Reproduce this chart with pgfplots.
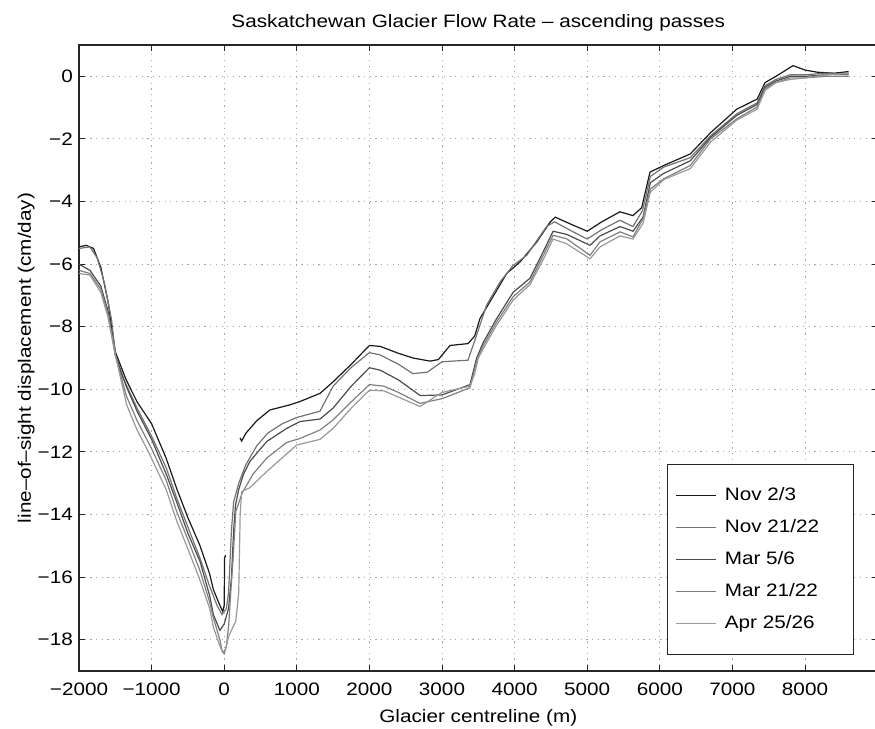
\documentclass[border=0pt]{standalone}
\usepackage{fontspec}
\setmainfont{Liberation Sans}[FakeStretch=1.15]
\usepackage{pgfplots}
\pgfplotsset{compat=1.18}
\newcommand{\fs}{\fontsize{18}{21}\selectfont}
\begin{document}
\begin{tikzpicture}
\begin{axis}[
  scale only axis, width=798.6pt, height=626pt,
  xmin=-2000, xmax=9000, ymin=-19, ymax=1,
  xtick={-2000,-1000,0,1000,2000,3000,4000,5000,6000,7000,8000},
  xticklabels={−2000,−1000,0,1000,2000,3000,4000,5000,6000,7000,8000},
  ytick={-18,-16,-14,-12,-10,-8,-6,-4,-2,0},
  yticklabels={−18,−16,−14,−12,−10,−8,−6,−4,−2,0},
  tick align=inside, tick pos=both, major tick length=6pt,
  axis line style={black!85, line width=1.1pt},
  major tick style={black!85, line width=1pt},
  grid=major,
  major grid style={gray!70, line width=1pt, dash pattern=on 1.2pt off 4.5pt},
  xticklabel style={font=\fs, anchor=base, yshift=-24.5pt},
  yticklabel style={font=\fs, anchor=east, inner sep=0pt, xshift=-6pt},
  title={Saskatchewan Glacier Flow Rate -- ascending passes},
  title style={font=\fs, at={(axis description cs:0.5,1.0184)}, anchor=base, inner sep=0pt},
  xlabel={Glacier centreline (m)},
  xlabel style={font=\fs, at={(axis description cs:0.5,-0.0815)}, anchor=base, inner sep=0pt},
  ylabel={line--of--sight displacement (cm/day)},
  ylabel style={font=\fs, at={(axis description cs:-0.0601,0.5)}, anchor=base, inner sep=0pt},
  legend style={at={(axis description cs:0.7363,0.3307)}, anchor=north west,
    draw=black!85, line width=1pt, fill=white, font=\fs,
    inner xsep=8pt, inner ysep=23pt, row sep=16pt, column sep=8pt,
    nodes={text height=13pt, text depth=3pt, inner sep=0pt}},
  legend cell align=left,
  legend image code/.code={\draw[#1, line width=1.3pt] (0pt,0pt) -- (40pt,0pt);},
  every axis plot/.append style={line width=1.2pt},
  unbounded coords=jump,
]
\addplot[black!90] coordinates {
(-2000,-5.45) (-1900,-5.4) (-1800,-5.5) (-1700,-6.1) (-1600,-7.2) (-1500,-8.8) (-1350,-9.7) (-1200,-10.4) (-1000,-11.1) (-800,-12.2) (-650,-13.2) (-500,-14.1) (-333,-15.0) (-200,-15.9) (-149,-16.4) (-60,-16.9) (-20,-17.1) (0,-16.9) (5,-15.4) (20,-15.3) (100,nan) (218,-11.55) (240,-11.65) (300,-11.4) (450,-11.0) (630,-10.66) (900,-10.5) (1044,-10.39) (1320,-10.13) (1500,-9.76) (1750,-9.2) (2000,-8.6) (2150,-8.63) (2400,-8.85) (2600,-9.0) (2835,-9.1) (2950,-9.05) (3110,-8.6) (3358,-8.54) (3450,-8.3) (3523,-7.74) (3661,-7.2) (3891,-6.3) (4075,-5.93) (4303,-5.3) (4488,-4.66) (4560,-4.5) (4750,-4.7) (5000,-4.95) (5200,-4.65) (5450,-4.33) (5630,-4.45) (5750,-4.2) (5865,-3.06) (6055,-2.85) (6420,-2.48) (6700,-1.8) (7060,-1.05) (7340,-0.73) (7450,-0.2) (7600,0.0) (7835,0.34) (8000,0.2) (8170,0.13) (8400,0.1) (8600,0.15)
};
\addlegendentry{\makebox[121pt][l]{Nov 2/3}}
\addplot[black!55] coordinates {
(-2000,-5.5) (-1850,-5.45) (-1750,-5.8) (-1650,-6.6) (-1550,-7.8) (-1500,-8.9) (-1400,-9.6) (-1200,-10.6) (-1000,-11.5) (-800,-12.5) (-650,-13.5) (-500,-14.4) (-333,-15.4) (-200,-16.3) (-100,-16.9) (-30,-17.2) (30,-17.0) (60,-16.5) (100,-14.5) (130,-13.6) (200,-13.0) (300,-12.4) (450,-11.8) (600,-11.4) (800,-11.1) (1000,-10.9) (1320,-10.7) (1500,-9.9) (1750,-9.3) (2000,-8.83) (2146,-8.9) (2400,-9.2) (2600,-9.5) (2800,-9.45) (3000,-9.12) (3358,-9.07) (3477,-8.27) (3615,-7.31) (3800,-6.57) (3980,-6.04) (4167,-5.72) (4440,-4.8) (4550,-4.65) (4750,-4.9) (5000,-5.2) (5200,-4.9) (5450,-4.6) (5630,-4.8) (5760,-4.3) (5870,-3.2) (6055,-2.9) (6420,-2.6) (6700,-1.9) (7060,-1.2) (7340,-0.85) (7450,-0.3) (7600,-0.1) (7800,0.05) (8000,0.05) (8300,0.1) (8600,0.05)
};
\addlegendentry{\makebox[121pt][l]{Nov 21/22}}
\addplot[black!70] coordinates {
(-2000,-6.0) (-1850,-6.2) (-1700,-6.7) (-1600,-7.5) (-1500,-8.9) (-1350,-9.9) (-1200,-10.7) (-1000,-11.6) (-800,-12.7) (-655,-13.6) (-500,-14.6) (-333,-15.5) (-200,-16.6) (-149,-17.2) (-60,-17.7) (0,-17.5) (60,-17.0) (100,-16.0) (130,-14.5) (156,-13.7) (200,-13.2) (263,-12.73) (355,-12.3) (585,-11.67) (860,-11.25) (1044,-11.03) (1320,-10.95) (1500,-10.6) (1750,-9.9) (2000,-9.31) (2150,-9.39) (2400,-9.7) (2700,-10.2) (3000,-10.18) (3386,-9.85) (3477,-9.0) (3569,-8.5) (3753,-7.74) (3980,-6.9) (4213,-6.45) (4395,-5.6) (4530,-4.95) (4717,-5.05) (5039,-5.4) (5176,-5.1) (5452,-4.8) (5631,-4.95) (5769,-4.5) (5870,-3.4) (6055,-3.1) (6420,-2.7) (6700,-1.95) (7060,-1.25) (7340,-0.9) (7450,-0.35) (7600,-0.15) (7800,0.0) (8000,0.0) (8300,0.05) (8600,0.1)
};
\addlegendentry{\makebox[121pt][l]{Mar 5/6}}
\addplot[black!50] coordinates {
(-2000,-6.2) (-1850,-6.3) (-1700,-6.8) (-1600,-7.6) (-1500,-8.9) (-1350,-10.2) (-1200,-11.0) (-1000,-11.9) (-800,-12.9) (-655,-13.9) (-500,-14.8) (-333,-15.8) (-200,-16.8) (-149,-17.3) (-60,-18.0) (-30,-18.35) (0,-18.45) (30,-18.2) (60,-17.6) (90,-16.5) (120,-15.5) (160,-13.9) (250,-13.3) (400,-12.7) (585,-12.2) (860,-11.7) (1044,-11.57) (1320,-11.3) (1500,-10.98) (1750,-10.4) (2000,-9.85) (2200,-9.9) (2400,-10.1) (2697,-10.45) (3000,-10.3) (3386,-9.95) (3477,-9.1) (3569,-8.6) (3753,-7.85) (3980,-7.04) (4213,-6.57) (4395,-5.72) (4530,-5.08) (4717,-5.19) (5039,-5.72) (5176,-5.29) (5452,-4.97) (5631,-5.13) (5769,-4.55) (5870,-3.6) (6055,-3.27) (6420,-2.85) (6700,-2.0) (7060,-1.36) (7340,-0.98) (7450,-0.4) (7600,-0.2) (7800,-0.05) (8000,-0.05) (8300,0.0) (8600,0.0)
};
\addlegendentry{\makebox[121pt][l]{Mar 21/22}}
\addplot[black!40] coordinates {
(-2000,-6.3) (-1850,-6.35) (-1700,-6.9) (-1600,-7.7) (-1500,-8.9) (-1343,-10.5) (-1200,-11.3) (-1022,-12.1) (-800,-13.2) (-655,-14.2) (-500,-15.1) (-333,-16.1) (-200,-17.0) (-149,-17.6) (-60,-18.2) (-20,-18.4) (20,-18.3) (60,-17.9) (120,-17.6) (160,-17.4) (200,-16.5) (220,-14.0) (240,-13.27) (300,-13.2) (350,-13.15) (585,-12.63) (998,-11.78) (1320,-11.6) (1500,-11.25) (1750,-10.6) (2000,-10.03) (2200,-10.05) (2400,-10.25) (2697,-10.55) (3000,-10.1) (3386,-9.9) (3450,-9.5) (3500,-9.0) (3569,-8.7) (3753,-7.95) (3980,-7.15) (4213,-6.65) (4395,-5.85) (4530,-5.2) (4717,-5.35) (5039,-5.83) (5176,-5.45) (5452,-5.1) (5631,-5.2) (5769,-4.7) (5870,-3.7) (6055,-3.3) (6420,-2.95) (6700,-2.1) (7060,-1.4) (7340,-1.05) (7450,-0.45) (7600,-0.2) (7800,-0.1) (8000,-0.05) (8300,0.05) (8600,0.1)
};
\addlegendentry{\makebox[121pt][l]{Apr 25/26}}
\end{axis}
\pgfresetboundingbox
\path[use as bounding box] (current axis.south west) ++(-79pt,-57pt) rectangle ++(875pt,728pt);
\end{tikzpicture}
\end{document}
